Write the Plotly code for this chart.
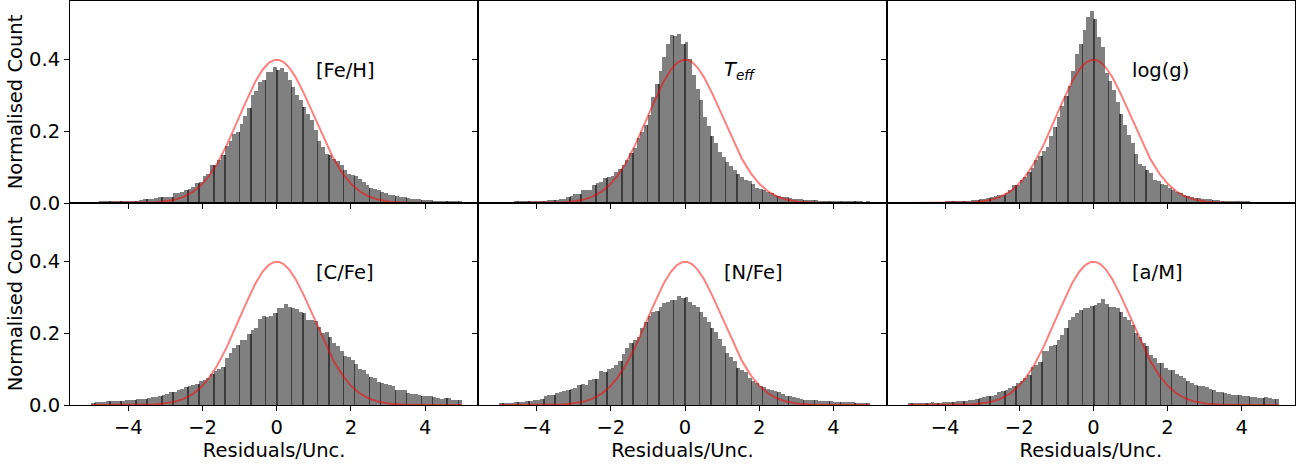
import numpy as np
import plotly.graph_objects as go
from plotly.subplots import make_subplots

# 100 bins of width 0.1 spanning [-5, 5]
bin_edges_lo = -5.0
bin_width = 0.1
n_bins = 100
bin_centers = [round(bin_edges_lo + bin_width * (i + 0.5), 3) for i in range(n_bins)]

feh = [0.002, 0.002, 0.003, 0.003, 0.003, 0.003, 0.004, 0.004, 0.005, 0.005,
       0.005, 0.006, 0.006, 0.007, 0.010, 0.012, 0.010, 0.014, 0.018, 0.017,
       0.017, 0.018, 0.028, 0.028, 0.030, 0.037, 0.038, 0.044, 0.055, 0.058,
       0.075, 0.081, 0.105, 0.105, 0.120, 0.135, 0.158, 0.174, 0.193, 0.199,
       0.220, 0.243, 0.264, 0.300, 0.313, 0.337, 0.343, 0.366, 0.366, 0.378,
       0.369, 0.376, 0.366, 0.343, 0.322, 0.300, 0.287, 0.267, 0.248, 0.232,
       0.202, 0.174, 0.156, 0.137, 0.133, 0.123, 0.117, 0.105, 0.091, 0.081,
       0.079, 0.074, 0.068, 0.058, 0.051, 0.043, 0.040, 0.035, 0.032, 0.029,
       0.023, 0.021, 0.019, 0.018, 0.016, 0.013, 0.012, 0.010, 0.010, 0.008,
       0.0075, 0.007, 0.006, 0.005, 0.005, 0.004, 0.004, 0.003, 0.003, 0.003]

teff = [0.002, 0.002, 0.002, 0.002, 0.003, 0.003, 0.003, 0.004, 0.004, 0.005,
        0.005, 0.006, 0.006, 0.007, 0.008, 0.009, 0.010, 0.012, 0.016, 0.020,
        0.024, 0.026, 0.035, 0.036, 0.036, 0.050, 0.055, 0.058, 0.070, 0.073,
        0.074, 0.085, 0.095, 0.105, 0.120, 0.140, 0.153, 0.180, 0.197, 0.218,
        0.245, 0.294, 0.331, 0.367, 0.407, 0.444, 0.468, 0.464, 0.471, 0.443,
        0.449, 0.400, 0.357, 0.318, 0.287, 0.240, 0.215, 0.187, 0.168, 0.141,
        0.128, 0.114, 0.104, 0.091, 0.080, 0.072, 0.063, 0.060, 0.054, 0.043,
        0.040, 0.035, 0.031, 0.028, 0.023, 0.019, 0.017, 0.016, 0.014, 0.011,
        0.010, 0.011, 0.008, 0.008, 0.007, 0.007, 0.006, 0.006, 0.005, 0.005,
        0.005, 0.004, 0.004, 0.004, 0.003, 0.003, 0.003, 0.003, 0.002, 0.003]

logg = [0.001, 0.001, 0.001, 0.002, 0.001, 0.002, 0.002, 0.002, 0.002, 0.002,
        0.003, 0.003, 0.003, 0.004, 0.004, 0.005, 0.0055, 0.0075, 0.009, 0.011,
        0.012, 0.013, 0.017, 0.019, 0.021, 0.023, 0.028, 0.035, 0.049, 0.051,
        0.063, 0.072, 0.086, 0.097, 0.120, 0.132, 0.144, 0.156, 0.186, 0.211,
        0.239, 0.269, 0.297, 0.327, 0.367, 0.415, 0.443, 0.481, 0.517, 0.535,
        0.512, 0.461, 0.435, 0.361, 0.341, 0.315, 0.281, 0.248, 0.216, 0.188,
        0.167, 0.137, 0.109, 0.102, 0.091, 0.083, 0.065, 0.061, 0.054, 0.049,
        0.043, 0.035, 0.031, 0.028, 0.023, 0.020, 0.017, 0.015, 0.013, 0.011,
        0.010, 0.010, 0.008, 0.008, 0.006, 0.006, 0.005, 0.004, 0.004, 0.004,
        0.003, 0.003, 0.002, 0.002, 0.002, 0.002, 0.002, 0.001, 0.001, 0.001]

cfe = [0.006, 0.008, 0.008, 0.009, 0.010, 0.010, 0.011, 0.012, 0.012, 0.013,
       0.015, 0.014, 0.017, 0.016, 0.018, 0.019, 0.021, 0.022, 0.024, 0.027,
       0.031, 0.035, 0.037, 0.042, 0.045, 0.049, 0.052, 0.056, 0.058, 0.067,
       0.070, 0.075, 0.085, 0.094, 0.100, 0.107, 0.130, 0.146, 0.158, 0.166,
       0.181, 0.181, 0.199, 0.209, 0.214, 0.239, 0.248, 0.244, 0.248, 0.257,
       0.269, 0.269, 0.281, 0.272, 0.269, 0.266, 0.260, 0.256, 0.237, 0.237,
       0.235, 0.218, 0.200, 0.202, 0.190, 0.172, 0.163, 0.149, 0.137, 0.135,
       0.126, 0.115, 0.100, 0.098, 0.087, 0.078, 0.075, 0.063, 0.061, 0.058,
       0.056, 0.052, 0.043, 0.042, 0.041, 0.033, 0.032, 0.031, 0.029, 0.024,
       0.024, 0.026, 0.021, 0.020, 0.018, 0.019, 0.019, 0.015, 0.014, 0.013]

nfe = [0.005, 0.005, 0.006, 0.006, 0.008, 0.009, 0.009, 0.011, 0.012, 0.013,
       0.015, 0.018, 0.024, 0.027, 0.028, 0.033, 0.036, 0.038, 0.042, 0.045,
       0.046, 0.056, 0.059, 0.057, 0.070, 0.073, 0.072, 0.095, 0.092, 0.100,
       0.103, 0.112, 0.122, 0.142, 0.160, 0.172, 0.180, 0.188, 0.214, 0.232,
       0.248, 0.258, 0.262, 0.274, 0.283, 0.288, 0.293, 0.293, 0.304, 0.297,
       0.300, 0.288, 0.279, 0.274, 0.260, 0.244, 0.232, 0.214, 0.203, 0.183,
       0.165, 0.144, 0.135, 0.123, 0.103, 0.098, 0.092, 0.075, 0.066, 0.061,
       0.052, 0.050, 0.044, 0.041, 0.038, 0.035, 0.031, 0.026, 0.024, 0.022,
       0.019, 0.018, 0.015, 0.013, 0.015, 0.013, 0.012, 0.011, 0.010, 0.010,
       0.009, 0.009, 0.008, 0.008, 0.007, 0.007, 0.006, 0.006, 0.005, 0.005]

alpham = [0.003, 0.003, 0.004, 0.004, 0.005, 0.004, 0.007, 0.006, 0.006, 0.007,
          0.009, 0.008, 0.009, 0.010, 0.011, 0.012, 0.014, 0.015, 0.018, 0.020,
          0.022, 0.024, 0.026, 0.027, 0.037, 0.038, 0.041, 0.047, 0.054, 0.060,
          0.068, 0.075, 0.084, 0.107, 0.112, 0.121, 0.149, 0.149, 0.165, 0.166,
          0.181, 0.195, 0.214, 0.237, 0.246, 0.256, 0.265, 0.269, 0.269, 0.276,
          0.279, 0.283, 0.294, 0.281, 0.274, 0.272, 0.269, 0.260, 0.246, 0.237,
          0.223, 0.200, 0.190, 0.172, 0.163, 0.140, 0.131, 0.117, 0.117, 0.103,
          0.098, 0.097, 0.087, 0.080, 0.075, 0.066, 0.061, 0.056, 0.052, 0.052,
          0.050, 0.044, 0.041, 0.035, 0.036, 0.034, 0.031, 0.029, 0.027, 0.028,
          0.026, 0.024, 0.022, 0.022, 0.020, 0.019, 0.021, 0.019, 0.018, 0.018]

panel_labels = ["[Fe/H]", "<i>T</i><sub><i>eff</i></sub>", "log(g)",
                "[C/Fe]", "[N/Fe]", "[a/M]"]
panel_values = [feh, teff, logg, cfe, nfe, alpham]

x_ticks = [-4, -2, 0, 2, 4]
y_ticks = [0.0, 0.2, 0.4]
x_title = "Residuals/Unc."
y_title = "Normalised Count"

# unit Gaussian reference curve over the binned interval
gx = np.linspace(-5, 5, 401)
gy = np.exp(-0.5 * gx ** 2) / np.sqrt(2 * np.pi)

# bin boundaries that get a dark edge stroke (the outline shows on a subset of edges)
edge_idx = [i for i in range(1, n_bins) if i % 7 in (1, 5)]

FONT = "DejaVu Sans"
FS = 19.5

fig = make_subplots(rows=2, cols=3, shared_xaxes=True, shared_yaxes=True,
                    horizontal_spacing=0, vertical_spacing=0)

for k, (vals, label) in enumerate(zip(panel_values, panel_labels)):
    r, c = k // 3 + 1, k % 3 + 1
    fig.add_trace(go.Bar(x=bin_centers, y=vals, width=bin_width,
                         marker=dict(color="rgb(128,128,128)", line=dict(width=0)),
                         showlegend=False, hoverinfo="skip"), row=r, col=c)
    ex = [round(bin_edges_lo + bin_width * i, 3) for i in edge_idx]
    ey = [min(vals[i - 1], vals[i]) for i in edge_idx]
    fig.add_trace(go.Bar(x=ex, y=ey, width=0.02,
                         marker=dict(color="rgb(60,60,60)", line=dict(width=0)),
                         showlegend=False, hoverinfo="skip"), row=r, col=c)
    fig.add_trace(go.Scatter(x=gx, y=gy, mode="lines",
                             line=dict(color="rgba(255,0,0,0.5)", width=2),
                             showlegend=False, hoverinfo="skip"), row=r, col=c)
    fig.add_annotation(x=1, y=0.37, text=label, showarrow=False,
                       xanchor="left", yanchor="middle",
                       font=dict(family=FONT, size=FS, color="black"),
                       row=r, col=c)

axis_common = dict(showline=True, linecolor="black", linewidth=1, mirror=True,
                   ticks="outside", ticklen=5, tickwidth=1, tickcolor="black",
                   showgrid=False, zeroline=False,
                   tickfont=dict(family=FONT, size=FS, color="black"))

fig.update_xaxes(range=[-5.573, 5.435], tickvals=x_ticks,
                 ticktext=[("\u2212" if t < 0 else "") + str(abs(t)) for t in x_ticks],
                 **axis_common)
fig.update_yaxes(range=[0, 0.5625], tickvals=y_ticks,
                 ticktext=["%.1f" % t for t in y_ticks], **axis_common)

for c in (1, 2, 3):
    fig.update_xaxes(title=dict(text=x_title, font=dict(family=FONT, size=FS, color="black"),
                                standoff=2), row=2, col=c)
for r in (1, 2):
    fig.update_yaxes(title=dict(text=y_title, font=dict(family=FONT, size=FS, color="black"),
                                standoff=1), row=r, col=1)

fig.update_layout(width=1307, height=467, bargap=0, barmode="overlay",
                  margin=dict(l=70, r=12, t=1, b=62),
                  paper_bgcolor="white", plot_bgcolor="white",
                  font=dict(family=FONT, size=FS, color="black"))

fig.write_html("out.html")
